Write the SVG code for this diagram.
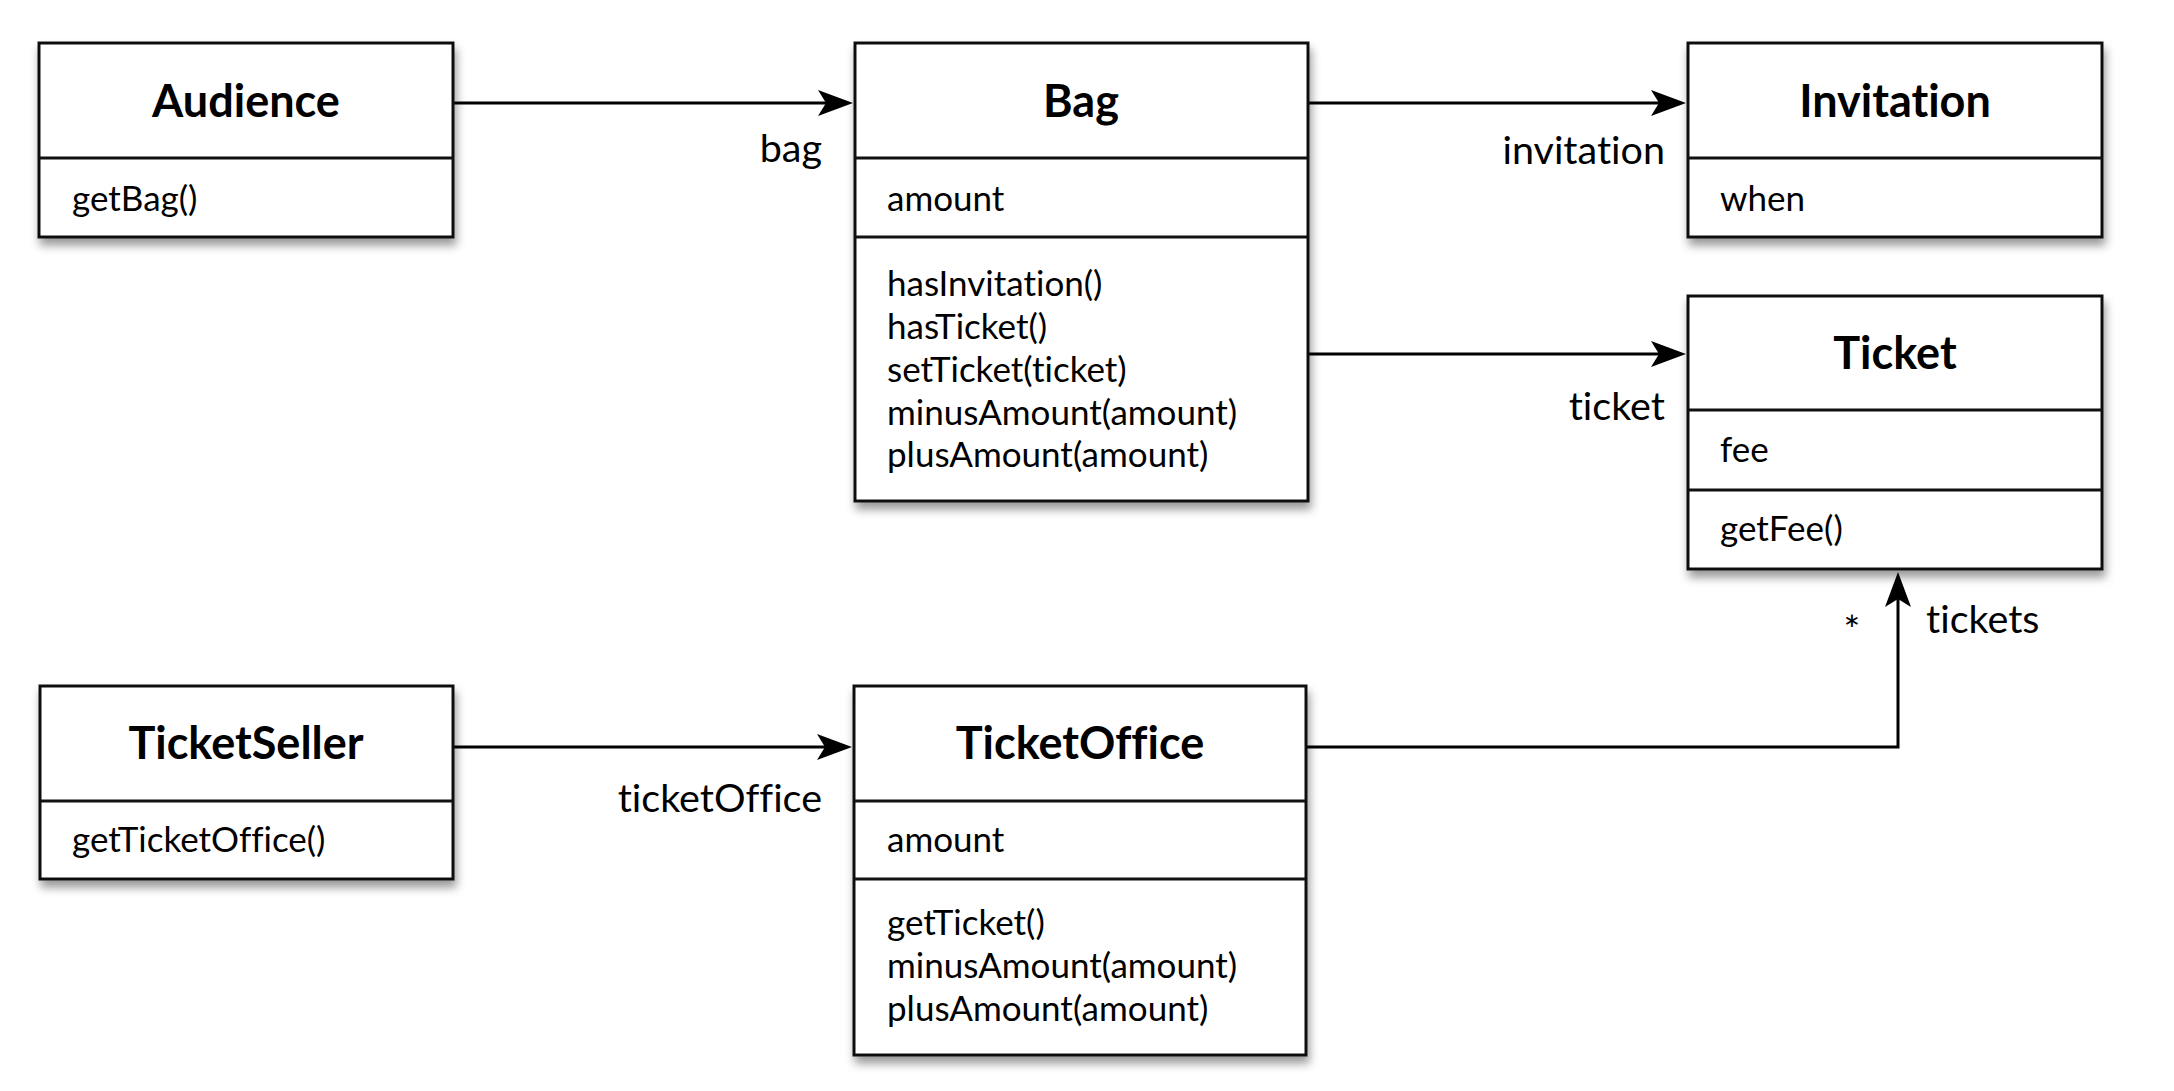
<svg xmlns="http://www.w3.org/2000/svg" width="2174" height="1091" viewBox="0 0 2174 1091">
<style>
text{font-family:Lato,"Open Sans",sans-serif;font-variant-ligatures:none;font-feature-settings:"liga" 0,"clig" 0;fill:#000}
.box{fill:#fff;stroke:#111;stroke-width:3}
.div{stroke:#111;stroke-width:3}
.title{font-weight:bold;font-size:45px;text-anchor:middle}
.t{font-size:35px}
.lbl{font-size:39.5px}
.end{text-anchor:end}
.edge{fill:none;stroke:#000;stroke-width:3}
</style>
<defs>
<filter id="sh" x="-10%" y="-10%" width="120%" height="130%">
<feDropShadow dx="2" dy="7" stdDeviation="5" flood-color="#000" flood-opacity="0.4"/>
</filter>
<marker id="ah" markerUnits="userSpaceOnUse" viewBox="0 0 35 26" markerWidth="35" markerHeight="26" refX="8" refY="13" orient="auto">
<path d="M35,13 L0,0 L8,13 L0,26 Z" fill="#000"/>
</marker>
</defs>

<g id="connectors">
<line class="edge" x1="453" y1="103" x2="826" y2="103" marker-end="url(#ah)"/>
<line class="edge" x1="1308" y1="103" x2="1659" y2="103" marker-end="url(#ah)"/>
<line class="edge" x1="1308" y1="354" x2="1659" y2="354" marker-end="url(#ah)"/>
<line class="edge" x1="453" y1="747" x2="825" y2="747" marker-end="url(#ah)"/>
<path class="edge" d="M1306,747 H1898 V599" marker-end="url(#ah)"/>
<text class="lbl end" x="822" y="162">bag</text>
<text class="lbl end" x="1665" y="164">invitation</text>
<text class="lbl end" x="1665" y="420">ticket</text>
<text class="lbl end" x="822" y="812">ticketOffice</text>
<text class="lbl" x="1852" y="644" text-anchor="middle">*</text>
<text class="lbl" x="1926" y="633">tickets</text>
</g>

<g id="Audience">
<rect class="box" filter="url(#sh)" x="39" y="43" width="414" height="194"/>
<line class="div" x1="39" y1="158" x2="453" y2="158"/>
<text class="title" x="246" y="117">Audience</text>
<text class="t" x="72" y="211">getBag()</text>
</g>

<g id="Bag">
<rect class="box" filter="url(#sh)" x="855" y="43" width="453" height="458"/>
<line class="div" x1="855" y1="158" x2="1308" y2="158"/>
<line class="div" x1="855" y1="237" x2="1308" y2="237"/>
<text class="title" x="1081" y="117">Bag</text>
<text class="t" x="887" y="211">amount</text>
<text class="t" x="887" y="296">hasInvitation()</text>
<text class="t" x="887" y="339">hasTicket()</text>
<text class="t" x="887" y="382">setTicket(ticket)</text>
<text class="t" x="887" y="425">minusAmount(amount)</text>
<text class="t" x="887" y="467">plusAmount(amount)</text>
</g>

<g id="Invitation">
<rect class="box" filter="url(#sh)" x="1688" y="43" width="414" height="194"/>
<line class="div" x1="1688" y1="158" x2="2102" y2="158"/>
<text class="title" x="1895" y="117">Invitation</text>
<text class="t" x="1720" y="211">when</text>
</g>

<g id="Ticket">
<rect class="box" filter="url(#sh)" x="1688" y="296" width="414" height="273"/>
<line class="div" x1="1688" y1="410" x2="2102" y2="410"/>
<line class="div" x1="1688" y1="490" x2="2102" y2="490"/>
<text class="title" x="1895" y="369">Ticket</text>
<text class="t" x="1720" y="462">fee</text>
<text class="t" x="1720" y="541">getFee()</text>
</g>

<g id="TicketSeller">
<rect class="box" filter="url(#sh)" x="40" y="686" width="413" height="193"/>
<line class="div" x1="40" y1="801" x2="453" y2="801"/>
<text class="title" x="246" y="759">TicketSeller</text>
<text class="t" x="72" y="852">getTicketOffice()</text>
</g>

<g id="TicketOffice">
<rect class="box" filter="url(#sh)" x="854" y="686" width="452" height="369"/>
<line class="div" x1="854" y1="801" x2="1306" y2="801"/>
<line class="div" x1="854" y1="879" x2="1306" y2="879"/>
<text class="title" x="1080" y="759">TicketOffice</text>
<text class="t" x="887" y="852">amount</text>
<text class="t" x="887" y="935">getTicket()</text>
<text class="t" x="887" y="978">minusAmount(amount)</text>
<text class="t" x="887" y="1021">plusAmount(amount)</text>
</g>
</svg>
